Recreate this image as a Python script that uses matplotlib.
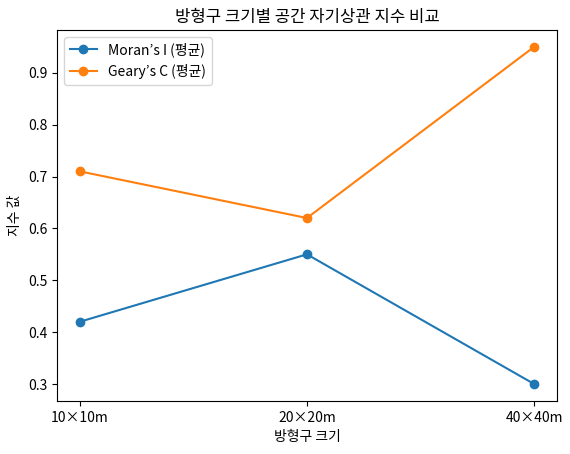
import matplotlib
matplotlib.use("Agg")
import matplotlib.pyplot as plt

plt.rcParams['font.family'] = ['Noto Sans CJK KR', 'DejaVu Sans']

QUADRAT_SIZES = ["10×10m", "20×20m", "40×40m"]
MORAN_I = [0.42, 0.55, 0.30]
GEARY_C = [0.71, 0.62, 0.95]

fig, ax = plt.subplots(figsize=(5.7, 4.54), dpi=100)
ax.plot(QUADRAT_SIZES, MORAN_I, marker="o", label="Moran’s I (평균)")
ax.plot(QUADRAT_SIZES, GEARY_C, marker="o", label="Geary’s C (평균)")
ax.set_title("방형구 크기별 공간 자기상관 지수 비교")
ax.set_xlabel("방형구 크기")
ax.set_ylabel("지수 값")
ax.legend(loc="upper left")
fig.subplots_adjust(left=0.1, right=0.977, top=0.934, bottom=0.117)
fig.savefig("out.png")
